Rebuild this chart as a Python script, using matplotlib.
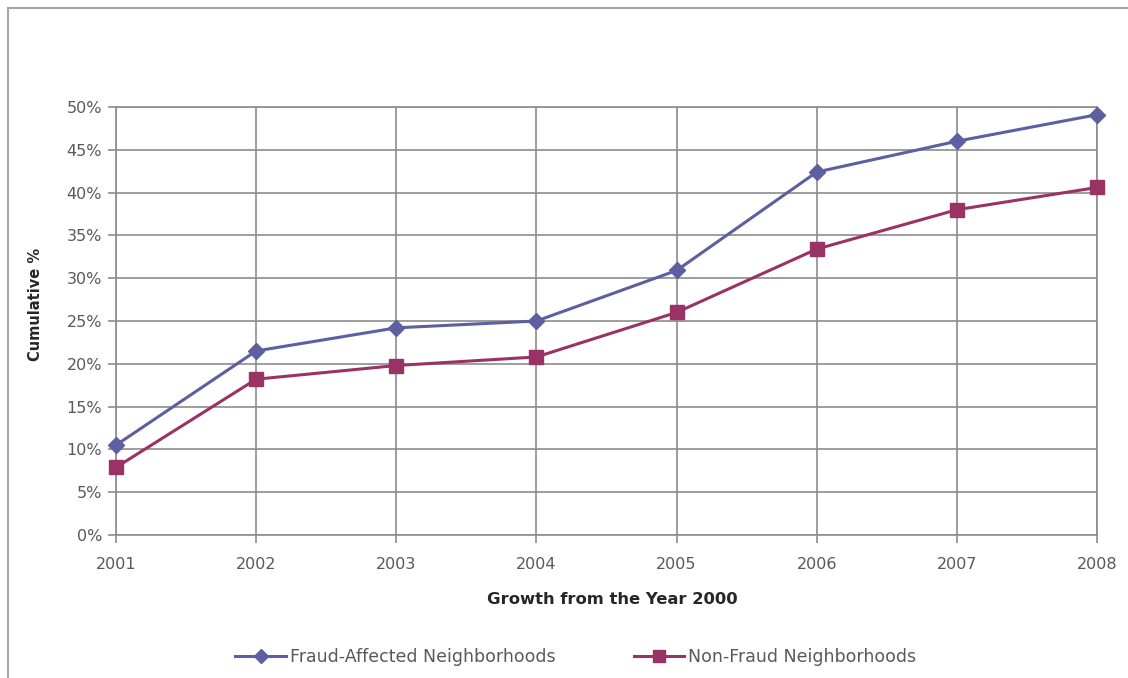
import matplotlib
matplotlib.use("Agg")
import matplotlib.pyplot as plt
from matplotlib.patches import Rectangle
from matplotlib.ticker import FuncFormatter

# 数据
years = [2001, 2002, 2003, 2004, 2005, 2006, 2007, 2008]
fraud = [10.5, 21.5, 24.2, 25.0, 30.9, 42.4, 46.0, 49.1]
non_fraud = [7.9, 18.2, 19.8, 20.8, 26.0, 33.4, 38.0, 40.6]

FRAUD_COLOR = '#5c5fa0'
NONFRAUD_COLOR = '#993366'
GRID_COLOR = '#8c8c8c'
TEXT_COLOR = '#595959'

plt.rcParams['font.family'] = ['DejaVu Sans']

fig = plt.figure(figsize=(11.28, 6.78), dpi=100)
fig.patch.set_facecolor('white')

# 外框
fig.patches.append(Rectangle((8 / 1128, -0.1), 1.2, 1.1 - 8 / 678,
                             transform=fig.transFigure, fill=False,
                             edgecolor='#a6a6a6', linewidth=1.5))

ax = fig.add_axes([116 / 1128, 1 - 535 / 678, (1097 - 116) / 1128, (535 - 107) / 678])

ax.plot(years, fraud, color=FRAUD_COLOR, marker='D', markersize=8, linewidth=2.2,
        label='Fraud-Affected Neighborhoods', clip_on=False, zorder=3)
ax.plot(years, non_fraud, color=NONFRAUD_COLOR, marker='s', markersize=10.5, linewidth=2.2,
        label='Non-Fraud Neighborhoods', clip_on=False, zorder=3)

ax.set_xlim(2001, 2008)
ax.set_ylim(0, 50)
ax.set_xticks(years)
ax.set_yticks(range(0, 51, 5))
ax.yaxis.set_major_formatter(FuncFormatter(lambda v, p: '{:d}%'.format(int(v))))

ax.grid(True, color=GRID_COLOR, linewidth=1.2)
ax.set_axisbelow(True)
for s in ax.spines.values():
    s.set_color(GRID_COLOR)
    s.set_linewidth(1.2)

ax.tick_params(axis='both', colors=GRID_COLOR, labelcolor=TEXT_COLOR, labelsize=11.5,
               length=6, width=1.2)
ax.tick_params(axis='x', pad=10)
ax.tick_params(axis='y', pad=4)

# 坐标轴标题
fig.text(612 / 1128, 1 - 600 / 678, 'Growth from the Year 2000', ha='center', va='center',
         fontsize=11.8, fontweight='bold', color='#262626')
fig.text(35 / 1128, 1 - 304 / 678, 'Cumulative %', ha='center', va='center', rotation=90,
         fontsize=10.5, fontweight='bold', color='#262626')

leg = fig.legend(loc='center', bbox_to_anchor=(576 / 1128, 1 - 657 / 678), ncol=2,
                 frameon=False, fontsize=12.5, handlelength=2.9, columnspacing=4.5,
                 handletextpad=0.25, markerscale=0.85)
for t in leg.get_texts():
    t.set_color(TEXT_COLOR)

fig.savefig('out.png', dpi=100)
